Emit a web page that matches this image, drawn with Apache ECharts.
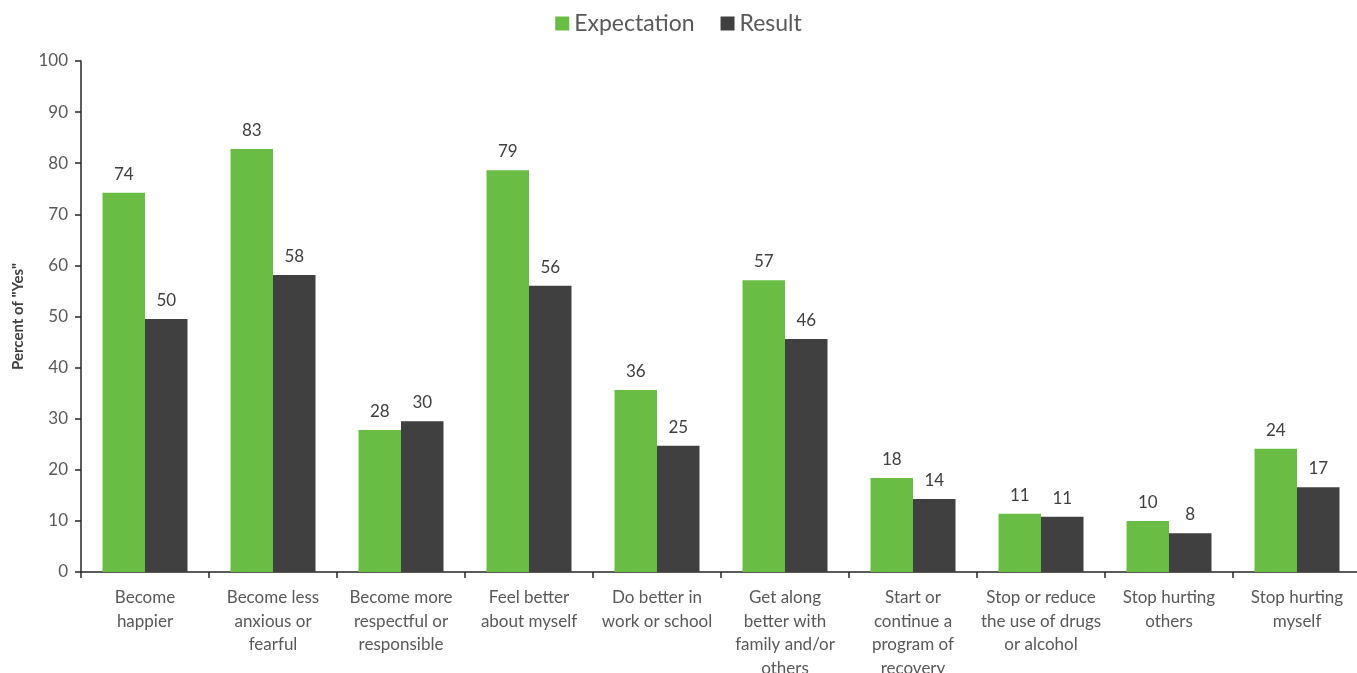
<!DOCTYPE html>
<html>
<head>
<meta charset="utf-8">
<script src="https://cdn.jsdelivr.net/npm/echarts@6/dist/echarts.min.js"></script>
<style>
  html, body { margin: 0; padding: 0; background: #fff; }
  #chart { width: 1357px; height: 673px; }
</style>
</head>
<body>
<div id="chart"></div>
<script>
// categories and values
const categories = [
  'Become\nhappier',
  'Become less\nanxious or\nfearful',
  'Become more\nrespectful or\nresponsible',
  'Feel better\nabout myself',
  'Do better in\nwork or school',
  'Get along\nbetter with\nfamily and/or\nothers',
  'Start or\ncontinue a\nprogram of\nrecovery',
  'Stop or reduce\nthe use of drugs\nor alcohol',
  'Stop hurting\nothers',
  'Stop hurting\nmyself'
]
const expectation = [74.2, 82.8, 27.8, 78.6, 35.6, 57.1, 18.4, 11.4, 10.0, 24.1]
const result = [49.5, 58.1, 29.5, 56.0, 24.7, 45.6, 14.3, 10.8, 7.6, 16.6]

const font = 'Lato, "Open Sans", sans-serif'
const valueLabel = {
  show: true,
  position: 'top',
  distance: 10,
  color: '#404040',
  fontSize: 17,
  fontFamily: font,
  formatter: p => Math.round(p.value)
}

const chart = echarts.init(document.getElementById('chart'))
chart.setOption({
  animation: false,
  textStyle: { fontFamily: font },
  legend: {
    top: 7,
    left: 'center',
    itemWidth: 14,
    itemHeight: 14,
    itemGap: 26,
    icon: 'rect',
    textStyle: { fontSize: 23, color: '#595959', fontFamily: font }
  },
  grid: { left: 81, right: -4, top: 61, bottom: 101, outerBoundsMode: 'none' },
  xAxis: {
    type: 'category',
    data: categories,
    axisLine: { lineStyle: { color: '#262626', width: 1.5 } },
    axisTick: { show: true, length: 6, lineStyle: { color: '#262626', width: 1.5 } },
    axisLabel: {
      color: '#595959',
      fontSize: 17,
      lineHeight: 23.5,
      margin: 14,
      interval: 0,
      fontFamily: font
    }
  },
  yAxis: {
    type: 'value',
    min: 0,
    max: 100,
    interval: 10,
    name: 'Percent of "Yes"',
    nameLocation: 'middle',
    nameGap: 55,
    nameTextStyle: { fontSize: 15, fontWeight: 'bold', color: '#404040', fontFamily: font },
    axisLine: { show: true, lineStyle: { color: '#262626', width: 1.5 } },
    axisTick: { show: true, length: 6, lineStyle: { color: '#262626', width: 1.5 } },
    axisLabel: { color: '#595959', fontSize: 17, margin: 13, fontFamily: font },
    splitLine: { show: false }
  },
  series: [
    {
      name: 'Expectation',
      type: 'bar',
      data: expectation,
      barGap: '0%',
      barCategoryGap: '33.6%',
      itemStyle: { color: '#69bd45' },
      label: valueLabel
    },
    {
      name: 'Result',
      type: 'bar',
      data: result,
      itemStyle: { color: '#404040' },
      label: valueLabel
    }
  ]
})
</script>
</body>
</html>
